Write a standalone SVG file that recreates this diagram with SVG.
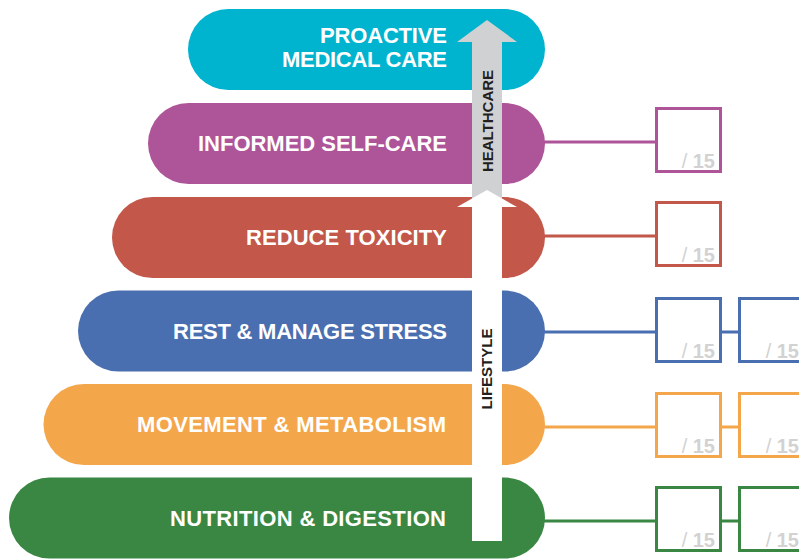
<svg xmlns="http://www.w3.org/2000/svg" width="799" height="559" viewBox="0 0 799 559">
<style>
.lbl{font-family:"Liberation Sans",Arial,sans-serif;font-weight:bold;font-size:22px;fill:#ffffff;text-anchor:end}
.arr{font-family:"Liberation Sans",Arial,sans-serif;font-weight:bold;font-size:15px;fill:#231f20;text-anchor:middle}
.sc{font-family:"Liberation Sans",Arial,sans-serif;font-weight:bold;font-size:20px;fill:#d2d2d2;text-anchor:end}
.sl{font-weight:normal}
.box{fill:#ffffff;stroke-width:3}
.ln{stroke-width:3;fill:none}
.c1{fill:#00b3cf}.c2{fill:#ae5599}.c3{fill:#c2574a}.c4{fill:#4a6fb0}.c5{fill:#f4a64b}.c6{fill:#3a8744}
.s2{stroke:#ae5599}.s3{stroke:#c2574a}.s4{stroke:#4a6fb0}.s5{stroke:#f4a64b}.s6{stroke:#3a8744}
</style>
<rect width="799" height="559" fill="#ffffff"/>
<g id="connectors">
<line class="ln s2" x1="540" y1="142" x2="656" y2="142"/>
<line class="ln s3" x1="540" y1="236" x2="656" y2="236"/>
<line class="ln s4" x1="540" y1="332" x2="656" y2="332"/>
<line class="ln s4" x1="720" y1="332" x2="740" y2="332"/>
<line class="ln s5" x1="540" y1="427" x2="656" y2="427"/>
<line class="ln s5" x1="720" y1="427" x2="740" y2="427"/>
<line class="ln s6" x1="540" y1="521" x2="656" y2="521"/>
<line class="ln s6" x1="720" y1="521" x2="740" y2="521"/>
</g>
<g id="proactive-medical-care">
<rect class="c1" x="188" y="9" width="357" height="81" rx="40.5"/>
<text class="lbl" x="447" y="43" textLength="127" lengthAdjust="spacing">PROACTIVE</text>
<text class="lbl" x="447" y="67" textLength="165" lengthAdjust="spacing">MEDICAL CARE</text>
</g>
<g id="informed-self-care">
<rect class="c2" x="148" y="103" width="397" height="81" rx="40.5"/>
<text class="lbl" x="447" y="151" textLength="249" lengthAdjust="spacing">INFORMED SELF-CARE</text>
</g>
<g id="reduce-toxicity">
<rect class="c3" x="112" y="197" width="433" height="81" rx="40.5"/>
<text class="lbl" x="447" y="244.5" textLength="201" lengthAdjust="spacing">REDUCE TOXICITY</text>
</g>
<g id="rest-manage-stress">
<rect class="c4" x="78" y="290.5" width="467" height="81" rx="40.5"/>
<text class="lbl" x="447" y="338.5" textLength="274" lengthAdjust="spacing">REST &amp; MANAGE STRESS</text>
</g>
<g id="movement-metabolism">
<rect class="c5" x="43.5" y="384" width="501.5" height="81" rx="40.5"/>
<text class="lbl" x="446" y="432" textLength="309" lengthAdjust="spacing">MOVEMENT &amp; METABOLISM</text>
</g>
<g id="nutrition-digestion">
<rect class="c6" x="9" y="477.5" width="536" height="81" rx="40.5"/>
<text class="lbl" x="446" y="526" textLength="276" lengthAdjust="spacing">NUTRITION &amp; DIGESTION</text>
</g>
<g id="healthcare-arrow">
<rect x="472" y="40" width="30" height="168" fill="#d0d1d3"/>
<polygon points="457,42 487,20 517,42" fill="#d0d1d3"/>
<text class="arr" transform="translate(493,121) rotate(-90)">HEALTHCARE</text>
</g>
<g id="lifestyle-arrow">
<rect x="472" y="205" width="30" height="336" fill="#ffffff"/>
<polygon points="457,207 487,190 517,207" fill="#ffffff"/>
<text class="arr" transform="translate(492,369) rotate(-90)">LIFESTYLE</text>
</g>
<g id="score-informed">
<rect class="box s2" x="656.5" y="108.5" width="64" height="63"/>
<text class="sc" x="715" y="168"><tspan class="sl">/</tspan> 15</text>
</g>
<g id="score-toxicity">
<rect class="box s3" x="656.5" y="202.5" width="64" height="63"/>
<text class="sc" x="715" y="262"><tspan class="sl">/</tspan> 15</text>
</g>
<g id="score-stress-1">
<rect class="box s4" x="656.5" y="298.5" width="64" height="63"/>
<text class="sc" x="715" y="358"><tspan class="sl">/</tspan> 15</text>
</g>
<g id="score-stress-2">
<rect class="box s4" x="739.5" y="298.5" width="64" height="63"/>
<text class="sc" x="799" y="358"><tspan class="sl">/</tspan> 15</text>
</g>
<g id="score-movement-1">
<rect class="box s5" x="656.5" y="393.5" width="64" height="63"/>
<text class="sc" x="715" y="453"><tspan class="sl">/</tspan> 15</text>
</g>
<g id="score-movement-2">
<rect class="box s5" x="739.5" y="393.5" width="64" height="63"/>
<text class="sc" x="799" y="453"><tspan class="sl">/</tspan> 15</text>
</g>
<g id="score-nutrition-1">
<rect class="box s6" x="656.5" y="487.5" width="64" height="63"/>
<text class="sc" x="715" y="547"><tspan class="sl">/</tspan> 15</text>
</g>
<g id="score-nutrition-2">
<rect class="box s6" x="739.5" y="487.5" width="64" height="63"/>
<text class="sc" x="799" y="547"><tspan class="sl">/</tspan> 15</text>
</g>
</svg>
